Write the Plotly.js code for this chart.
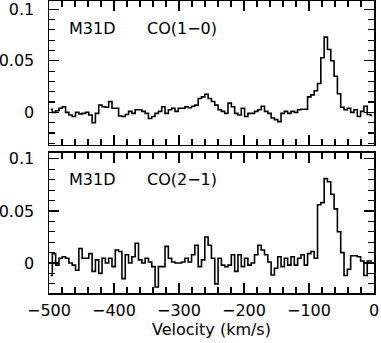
<!DOCTYPE html>
<html>
<head>
<meta charset="utf-8">
<script src="https://cdn.plot.ly/plotly-3.0.1.min.js"></script>
<style>
  html, body { margin: 0; padding: 0; background: #fff; }
  #plot { width: 381px; height: 343px; }
</style>
</head>
<body>
<div id="plot"></div>
<script>
// channel grid of the two spectra (km/s)
var vStart = -500;
var chanWidth = 5.1;
var nChan = 98;

// CO(1-0) antenna temperature per channel
var co10 = [0.003, 0.000, 0.0015, 0.004, 0.0055, 0, -0.0025, -0.004, 0, -0.0015,
  -0.001, 0, -0.0025, -0.010, -0.001, 0.007, 0.0055, 0.005, 0.0105, 0.004,
  0.004, -0.0035, -0.004, -0.002, 0.001, -0.001, 0.0025, 0.0025, 0.001, -0.001,
  -0.006, -0.004, -0.001, 0.001, 0.0055, -0.001, 0.0025, 0.004, 0.001, 0.004,
  0.004, 0.0055, 0.0045, 0.006, 0.007, 0.0135, 0.015, 0.0175, 0.0135, 0.0105,
  0.007, 0.0025, 0.001, -0.001, 0.009, 0.0055, -0.001, -0.0025, 0.004, -0.004,
  -0.001, -0.001, 0.001, 0.0025, 0.006, 0.001, -0.001, -0.0055, -0.007, -0.009,
  -0.001, 0.001, -0.001, 0.001, 0, 0.0025, 0.003, 0.003, 0.015, 0.017,
  0.021, 0.028, 0.053, 0.073, 0.061, 0.050, 0.035, 0.018, 0.005, 0.0025,
  0.004, 0, 0.0025, -0.004, 0.001, 0.006, -0.002, -0.003];

// CO(2-1), bottom panel
var co21 = [-0.012, 0.009, -0.002, 0.0045, 0.006, 0.0045, 0, -0.002, -0.007, 0.014,
  0.0045, 0.0045, 0.009, -0.008, 0.003, -0.010, 0.0045, 0, 0.0045, -0.0035,
  0.0125, 0.011, -0.015, 0.008, 0, 0.006, 0.019, 0.003, 0, 0.0045,
  0.001, -0.0035, -0.023, -0.0035, -0.0035, 0.016, 0.0045, 0.001, 0, 0,
  0.001, 0.0045, 0.001, 0.008, 0.017, -0.0035, 0.003, 0.025, 0.017, 0.0045,
  -0.020, 0.0045, -0.002, -0.0035, -0.002, 0.008, -0.008, 0.008, -0.0035, 0.0045,
  -0.002, 0, 0.008, 0.017, 0.0125, 0.008, 0.001, -0.0115, -0.005, 0.006,
  -0.0035, 0.0045, -0.002, 0.006, -0.002, 0.0045, 0.008, -0.002, 0.009, 0.011,
  0.0045, 0.056, 0.058, 0.081, 0.078, 0.066, 0.052, 0.030, 0.010, -0.012,
  -0.006, 0.007, 0.007, 0.006, 0.002, -0.012, 0.002, 0.002];

var panelLabels = ['M31D', 'M31D'];
var lineLabels = ['CO(1\u22120)', 'CO(2\u22121)'];

var vel = [];
for (var i = 0; i < nChan; i++) {
  vel.push(vStart + (i + 0.5) * chanWidth);
}

var font = {family: 'DejaVu Sans', size: 16, color: '#000'};

var traceTop = {
  x: vel, y: co10, xaxis: 'x2', yaxis: 'y',
  type: 'scatter', mode: 'lines',
  line: {shape: 'hvh', color: '#000', width: 1.6},
  hoverinfo: 'none'
};
var traceBot = {
  x: vel, y: co21, xaxis: 'x', yaxis: 'y2',
  type: 'scatter', mode: 'lines',
  line: {shape: 'hvh', color: '#000', width: 1.6},
  hoverinfo: 'none'
};

function xAxis(showLabels, anchor) {
  return {
    range: [-500, 0], anchor: anchor,
    showgrid: false, zeroline: false,
    showline: true, linecolor: '#000', linewidth: 1.5, mirror: 'ticks',
    ticks: 'inside', ticklen: 10, tickwidth: 1.2, tickcolor: '#000',
    dtick: 100, tick0: 0,
    minor: {dtick: 20, ticks: 'inside', ticklen: 6, tickwidth: 1.2, tickcolor: '#000'},
    showticklabels: showLabels, tickfont: font, ticklabelstandoff: 2,
    ticklabeloverflow: 'allow'
  };
}
function yAxis(domain, range, anchor) {
  return {
    domain: domain, range: range, anchor: anchor,
    showgrid: false, zeroline: false,
    showline: true, linecolor: '#000', linewidth: 1.5, mirror: 'ticks',
    ticks: 'inside', ticklen: 10, tickwidth: 1.2, tickcolor: '#000',
    tickvals: [0, 0.05, 0.1], ticktext: ['0', '0.05', '0.1'],
    minor: {dtick: 0.01, tick0: 0, ticks: 'inside', ticklen: 6, tickwidth: 1.2, tickcolor: '#000'},
    tickfont: font, ticklabelstandoff: 10, ticklabeloverflow: 'allow'
  };
}

var xb = xAxis(true, 'y2');
xb.title = {text: 'Velocity (km/s)', font: font, standoff: 2};
var xt = xAxis(false, 'y');
xt.matches = 'x';

var layout = {
  width: 381, height: 343,
  margin: {l: 49, r: 7, t: 1, b: 50},
  paper_bgcolor: '#fff', plot_bgcolor: '#fff',
  showlegend: false,
  font: font,
  xaxis: xb,
  xaxis2: xt,
  yaxis: yAxis([0.507, 1], [-0.0316, 0.108], 'x2'),
  yaxis2: yAxis([0, 0.48], [-0.0288, 0.1058], 'x'),
  annotations: [
    {xref: 'x2 domain', yref: 'y domain', x: 0.055, y: 0.81, xanchor: 'left', yanchor: 'middle',
     text: panelLabels[0], showarrow: false, font: font},
    {xref: 'x2 domain', yref: 'y domain', x: 0.295, y: 0.81, xanchor: 'left', yanchor: 'middle',
     text: lineLabels[0], showarrow: false, font: font},
    {xref: 'x domain', yref: 'y2 domain', x: 0.055, y: 0.807, xanchor: 'left', yanchor: 'middle',
     text: panelLabels[1], showarrow: false, font: font},
    {xref: 'x domain', yref: 'y2 domain', x: 0.295, y: 0.807, xanchor: 'left', yanchor: 'middle',
     text: lineLabels[1], showarrow: false, font: font}
  ]
};

Plotly.newPlot('plot', [traceTop, traceBot], layout, {displayModeBar: false, staticPlot: true});
</script>
</body>
</html>
